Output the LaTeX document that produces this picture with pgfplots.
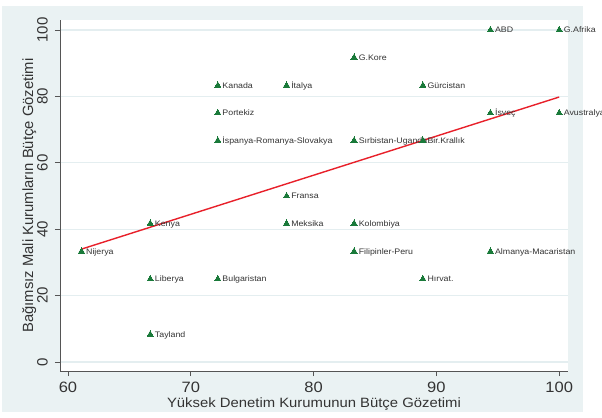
\documentclass[border=0pt]{standalone}
\usepackage{pgfplots}
\pgfplotsset{compat=1.18}
\usepackage{pgfplotstable}
\usepackage{fontspec}
\setmainfont{Liberation Sans}
\newfontfamily\hfont[FakeStretch=1.1]{Liberation Sans}
\definecolor{bg}{HTML}{EAF2F3}
\definecolor{gridc}{HTML}{E4EEF0}
\definecolor{mk}{HTML}{1A7A3A}
\definecolor{rl}{HTML}{E8202A}
\definecolor{ax}{HTML}{555555}
\definecolor{txt}{HTML}{333333}

\pgfplotstableread{
x y label
61.1 33.3 Nijerya
66.7 41.7 Kenya
66.7 25.0 Liberya
66.7 8.3 Tayland
72.2 25.0 Bulgaristan
72.2 83.3 Kanada
72.2 75.0 Portekiz
72.2 66.7 İspanya-Romanya-Slovakya
77.8 83.3 İtalya
77.8 50.0 Fransa
77.8 41.7 Meksika
83.3 91.7 G.Kore
83.3 66.7 Sırbistan-Uganda
83.3 41.7 Kolombiya
83.3 33.3 Filipinler-Peru
88.9 83.3 Gürcistan
88.9 66.7 Bir.Krallık
88.9 25.0 Hırvat.
94.4 100 ABD
100 100 G.Afrika
94.4 75.0 İsveç
100 75.0 Avustralya
94.4 33.3 Almanya-Macaristan
}\pts

\begin{document}
\begin{tikzpicture}[x=1bp,y=1bp]
\path[use as bounding box] (0,0) rectangle (602,417);
\fill[bg] (2,5) rectangle (583,411);
\begin{axis}[
  at={(60bp,46bp)}, anchor=south west,
  width=508bp, height=351bp, scale only axis,
  xmin=59.35, xmax=100.72, ymin=-2.71, ymax=103.0,
  axis background/.style={fill=white},
  axis x line*=bottom, axis y line*=left,
  x axis line style={-}, y axis line style={-},
  axis line style={ax, line width=0.9bp},
  xtick={60,70,80,90,100}, ytick={0,20,40,60,80,100},
  minor tick num=0,
  tick align=outside, major tick length=5bp,
  tick style={ax, line width=0.8bp},
  ymajorgrids, major grid style={gridc, line width=1.2bp},
  /pgf/number format/assume math mode=true,
  xticklabel shift=6bp, yticklabel shift=7bp,
  xticklabel style={font=\hfont\fontsize{15bp}{18bp}\selectfont, text=txt, anchor=north, inner sep=0pt},
  yticklabel style={font=\fontsize{15bp}{18bp}\selectfont, text=txt, rotate=90, anchor=south, inner sep=0pt},
  xlabel={Yüksek Denetim Kurumunun Bütçe Gözetimi},
  ylabel={Bağımsız Mali Kurumların Bütçe Gözetimi},
  xlabel style={at={(axis description cs:0.5,-0.1026)}, anchor=base, inner sep=0pt, font=\hfont\fontsize{13.5bp}{16bp}\selectfont, text=txt},
  ylabel style={at={(axis description cs:-0.053,0.5)}, anchor=base, inner sep=0pt, font=\fontsize{14.8bp}{17bp}\selectfont, text=txt},
  clip=false,
]
\addplot[draw=none, mark=none, nodes near coords, point meta=explicit symbolic,
  every node near coord/.append style={anchor=base west, xshift=4.5bp, yshift=-3bp, inner sep=0pt, font=\hfont\fontsize{8bp}{10bp}\selectfont, text=txt}]
  table[x=x, y=y, meta=label] {\pts};
\addplot[only marks, mark=triangle*, mark size=3.6bp, mark options={fill=mk, draw=mk, line width=0pt}]
  table[x=x, y=y] {\pts};
\addplot[rl, line width=1.4bp, no markers] coordinates {(61.1,34.0) (100,79.8)};
\end{axis}
\end{tikzpicture}
\end{document}
